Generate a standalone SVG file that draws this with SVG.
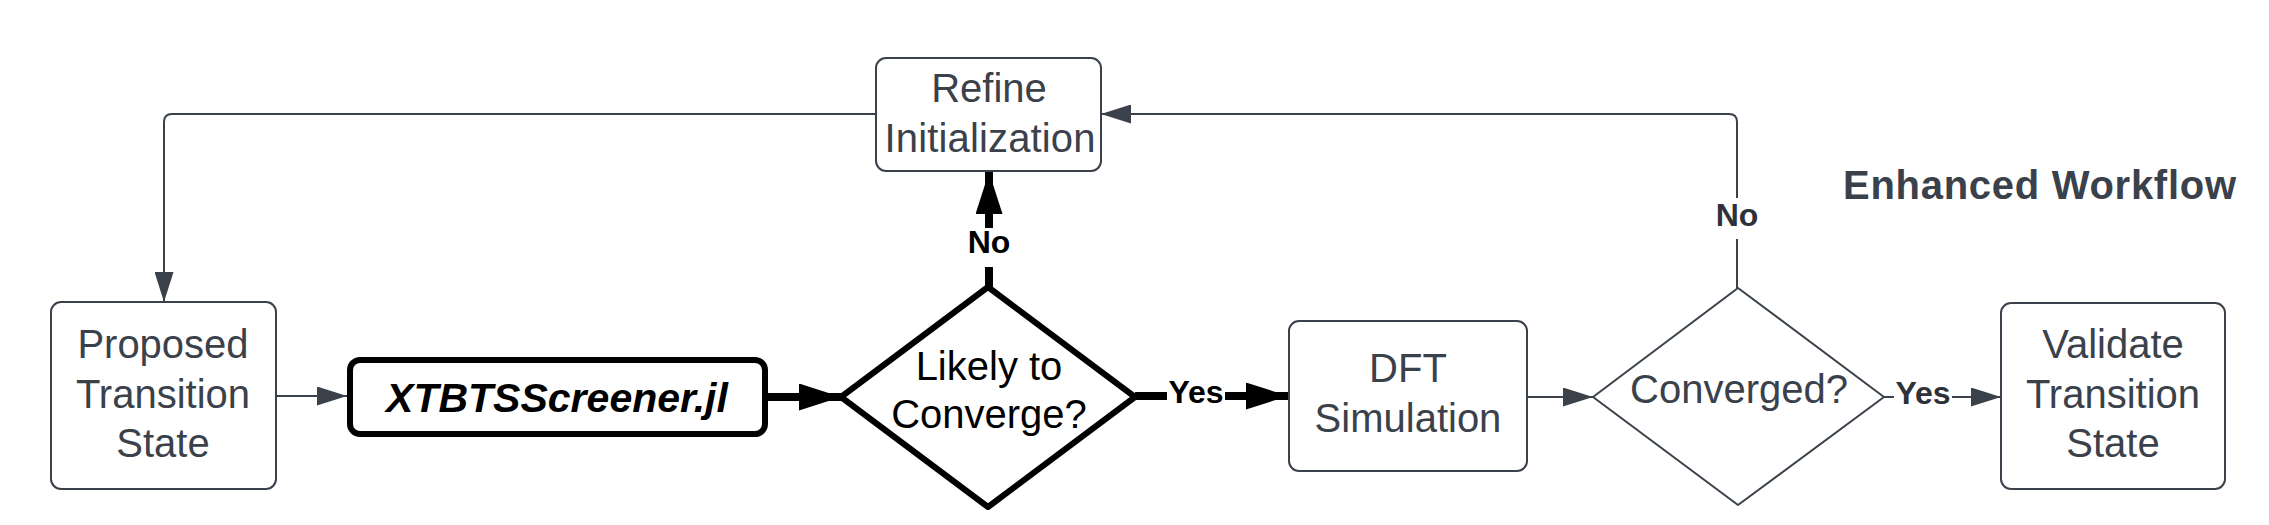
<svg xmlns="http://www.w3.org/2000/svg" width="2269" height="525" viewBox="0 0 2269 525">
  <defs>
    <style>
      .box { fill: #ffffff; stroke: #3a414a; stroke-width: 2; }
      .lbl { font-family: "Liberation Sans", Arial, sans-serif; font-size: 40px; fill: #3a414a; text-anchor: middle; }
      .blk { fill: #000000; }
      .edge { font-family: "Liberation Sans", Arial, sans-serif; font-size: 32px; font-weight: bold; text-anchor: middle; }
      .thin { fill: none; stroke: #3a414a; stroke-width: 2; }
      .thick { fill: none; stroke: #000000; stroke-width: 8; }
    </style>
    <marker id="ag" markerUnits="userSpaceOnUse" markerWidth="30" markerHeight="19" refX="30" refY="9.5" orient="auto">
      <path d="M0,0 L30,9.5 L0,19 Z" fill="#3a414a"/>
    </marker>
    <marker id="ab" markerUnits="userSpaceOnUse" markerWidth="42" markerHeight="27" refX="42" refY="13.5" orient="auto">
      <path d="M0,0 L42,13.5 L0,27 Z" fill="#000000"/>
    </marker>
  </defs>
  <rect width="2269" height="525" fill="#ffffff"/>

  <g id="connectors">
    <path class="thin" d="M276,396 H347" marker-end="url(#ag)"/>
    <path class="thick" d="M768,397 H841" marker-end="url(#ab)"/>
    <path class="thick" d="M989,287 V267"/>
    <path class="thick" d="M989,228 V172" marker-end="url(#ab)"/>
    <text class="edge" x="989" y="253" fill="#000000">No</text>
    <path class="thick" d="M1135,396 H1167"/>
    <text class="edge" x="1196" y="403" fill="#000000">Yes</text>
    <path class="thick" d="M1225,396 H1288" marker-end="url(#ab)"/>
    <path class="thin" d="M1527,397 H1593" marker-end="url(#ag)"/>
    <path class="thin" d="M1884,397 H1894"/>
    <text class="edge" x="1923" y="404" fill="#2e3238">Yes</text>
    <path class="thin" d="M1952,397 H2001" marker-end="url(#ag)"/>
    <path class="thin" d="M1737,288 V239"/>
    <text class="edge" x="1737" y="226" fill="#2e3238">No</text>
    <path class="thin" d="M1737,198 V122 Q1737,114 1729,114 H1101" marker-end="url(#ag)"/>
    <path class="thin" d="M876,114 H172 Q164,114 164,122 V302" marker-end="url(#ag)"/>
  </g>

  <g id="proposed">
    <rect class="box" x="51" y="302" width="225" height="187" rx="10"/>
    <text class="lbl" x="163" y="358">Proposed</text>
    <text class="lbl" x="163" y="408">Transition</text>
    <text class="lbl" x="163" y="457">State</text>
  </g>

  <g id="screener">
    <rect x="350" y="360" width="415" height="74" rx="10" fill="#ffffff" stroke="#000000" stroke-width="6"/>
    <text x="557" y="412" font-family="Liberation Sans, Arial, sans-serif" font-size="41" font-weight="bold" font-style="italic" fill="#000000" text-anchor="middle">XTBTSScreener.jl</text>
  </g>

  <g id="likely">
    <polygon points="988,287 1135,397 988,507 841,397" fill="#ffffff" stroke="#000000" stroke-width="6" stroke-linejoin="round"/>
    <text class="lbl blk" x="989" y="380">Likely to</text>
    <text class="lbl blk" x="989" y="428">Converge?</text>
  </g>

  <g id="refine">
    <rect class="box" x="876" y="58" width="225" height="113" rx="10"/>
    <text class="lbl" x="989" y="102">Refine</text>
    <text class="lbl" x="990" y="152" textLength="211">Initialization</text>
  </g>

  <g id="dft">
    <rect class="box" x="1289" y="321" width="238" height="150" rx="10"/>
    <text class="lbl" x="1408" y="382">DFT</text>
    <text class="lbl" x="1408" y="432">Simulation</text>
  </g>

  <g id="converged">
    <polygon points="1738,288 1884,397 1738,505 1593,397" fill="#ffffff" stroke="#3a414a" stroke-width="2" stroke-linejoin="round"/>
    <text class="lbl" x="1739" y="403">Converged?</text>
  </g>

  <g id="validate">
    <rect class="box" x="2001" y="303" width="224" height="186" rx="10"/>
    <text class="lbl" x="2113" y="358">Validate</text>
    <text class="lbl" x="2113" y="408">Transition</text>
    <text class="lbl" x="2113" y="457">State</text>
  </g>

  <g id="title">
    <text x="1843" y="199" font-family="Liberation Sans, Arial, sans-serif" font-size="40" font-weight="bold" fill="#3a414a" textLength="393">Enhanced Workflow</text>
  </g>
</svg>
